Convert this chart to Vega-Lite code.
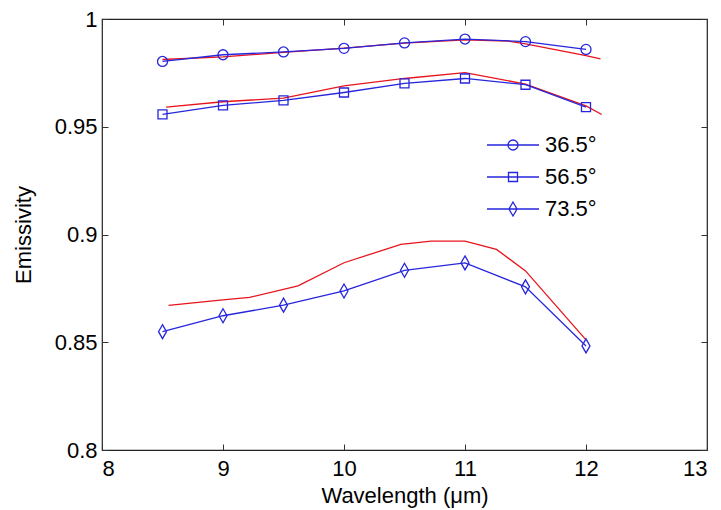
{
  "$schema": "https://vega.github.io/schema/vega-lite/v6.json",
  "width": 605,
  "height": 431,
  "autosize": {"type": "none"},
  "padding": {"left": 102, "top": 19, "right": 14, "bottom": 60},
  "background": "white",
  "config": {
    "font": "Liberation Sans",
    "view": {"stroke": "#222222", "strokeWidth": 1.2},
    "axis": {"grid": false, "domain": false, "tickColor": "#333333", "tickSize": -6, "labelColor": "black", "titleColor": "black", "labelFontSize": 22, "titleFontSize": 22, "labelFont": "Liberation Sans", "titleFont": "Liberation Sans", "titleFontWeight": "normal"}
  },
  "resolve": {"axis": {"x": "independent", "y": "independent"}, "scale": {"shape": "independent"}, "legend": {"shape": "independent"}},
  "datasets": {
    "measured": [
      {"angle": "36.5°", "wavelength": 8.5, "emissivity": 0.9803},
      {"angle": "36.5°", "wavelength": 9.0, "emissivity": 0.9834},
      {"angle": "36.5°", "wavelength": 9.5, "emissivity": 0.9847},
      {"angle": "36.5°", "wavelength": 10.0, "emissivity": 0.9864},
      {"angle": "36.5°", "wavelength": 10.5, "emissivity": 0.9889},
      {"angle": "36.5°", "wavelength": 11.0, "emissivity": 0.9907},
      {"angle": "36.5°", "wavelength": 11.5, "emissivity": 0.9895},
      {"angle": "36.5°", "wavelength": 12.0, "emissivity": 0.9859},
      {"angle": "56.5°", "wavelength": 8.5, "emissivity": 0.9557},
      {"angle": "56.5°", "wavelength": 9.0, "emissivity": 0.9599},
      {"angle": "56.5°", "wavelength": 9.5, "emissivity": 0.9622},
      {"angle": "56.5°", "wavelength": 10.0, "emissivity": 0.9659},
      {"angle": "56.5°", "wavelength": 10.5, "emissivity": 0.9701},
      {"angle": "56.5°", "wavelength": 11.0, "emissivity": 0.9724},
      {"angle": "56.5°", "wavelength": 11.5, "emissivity": 0.9695},
      {"angle": "56.5°", "wavelength": 12.0, "emissivity": 0.9591},
      {"angle": "73.5°", "wavelength": 8.5, "emissivity": 0.8549},
      {"angle": "73.5°", "wavelength": 9.0, "emissivity": 0.8623},
      {"angle": "73.5°", "wavelength": 9.5, "emissivity": 0.8672},
      {"angle": "73.5°", "wavelength": 10.0, "emissivity": 0.8738},
      {"angle": "73.5°", "wavelength": 10.5, "emissivity": 0.8834},
      {"angle": "73.5°", "wavelength": 11.0, "emissivity": 0.8868},
      {"angle": "73.5°", "wavelength": 11.5, "emissivity": 0.8757},
      {"angle": "73.5°", "wavelength": 12.0, "emissivity": 0.8483}
    ],
    "model": [
      {"angle": "36.5°", "wavelength": 8.5, "emissivity": 0.9812},
      {"angle": "36.5°", "wavelength": 9.0, "emissivity": 0.9824},
      {"angle": "36.5°", "wavelength": 9.5, "emissivity": 0.9845},
      {"angle": "36.5°", "wavelength": 10.0, "emissivity": 0.9865},
      {"angle": "36.5°", "wavelength": 10.5, "emissivity": 0.9888},
      {"angle": "36.5°", "wavelength": 11.0, "emissivity": 0.9903},
      {"angle": "36.5°", "wavelength": 11.35, "emissivity": 0.9898},
      {"angle": "36.5°", "wavelength": 11.5, "emissivity": 0.9885},
      {"angle": "36.5°", "wavelength": 12.0, "emissivity": 0.983},
      {"angle": "36.5°", "wavelength": 12.12, "emissivity": 0.9815},
      {"angle": "56.5°", "wavelength": 8.53, "emissivity": 0.9591},
      {"angle": "56.5°", "wavelength": 9.0, "emissivity": 0.9616},
      {"angle": "56.5°", "wavelength": 9.5, "emissivity": 0.9633},
      {"angle": "56.5°", "wavelength": 10.0, "emissivity": 0.969},
      {"angle": "56.5°", "wavelength": 10.5, "emissivity": 0.9724},
      {"angle": "56.5°", "wavelength": 11.0, "emissivity": 0.9751},
      {"angle": "56.5°", "wavelength": 11.5, "emissivity": 0.9698},
      {"angle": "56.5°", "wavelength": 12.0, "emissivity": 0.9597},
      {"angle": "56.5°", "wavelength": 12.13, "emissivity": 0.9557},
      {"angle": "73.5°", "wavelength": 8.55, "emissivity": 0.8671},
      {"angle": "73.5°", "wavelength": 9.0, "emissivity": 0.8697},
      {"angle": "73.5°", "wavelength": 9.22, "emissivity": 0.8708},
      {"angle": "73.5°", "wavelength": 9.62, "emissivity": 0.8762},
      {"angle": "73.5°", "wavelength": 10.0, "emissivity": 0.8869},
      {"angle": "73.5°", "wavelength": 10.47, "emissivity": 0.8954},
      {"angle": "73.5°", "wavelength": 10.72, "emissivity": 0.8969},
      {"angle": "73.5°", "wavelength": 11.0, "emissivity": 0.8969},
      {"angle": "73.5°", "wavelength": 11.26, "emissivity": 0.8931},
      {"angle": "73.5°", "wavelength": 11.5, "emissivity": 0.8831},
      {"angle": "73.5°", "wavelength": 12.0, "emissivity": 0.8511}
    ]
  },
  "layer": [
    {
      "data": {"name": "model"},
      "mark": {"type": "line", "color": "#e8141c", "strokeWidth": 1.3},
      "encoding": {
        "x": {"field": "wavelength", "type": "quantitative", "scale": {"domain": [8, 13], "nice": false, "zero": false}, "axis": {"orient": "bottom", "values": [8, 9, 10, 11, 12, 13], "title": "Wavelength (μm)", "labelPadding": 14, "titlePadding": 6}},
        "y": {"field": "emissivity", "type": "quantitative", "scale": {"domain": [0.8, 1], "nice": false, "zero": false}, "axis": {"orient": "left", "values": [0.8, 0.85, 0.9, 0.95, 1], "format": "~g", "title": "Emissivity", "labelPadding": 11, "titlePadding": 19}},
        "detail": {"field": "angle"}
      }
    },
    {
      "data": {"name": "measured"},
      "mark": {"type": "line", "color": "#2626dc", "strokeWidth": 1.3},
      "encoding": {
        "x": {"field": "wavelength", "type": "quantitative", "axis": {"orient": "top", "values": [8, 9, 10, 11, 12, 13], "labels": false, "title": null}},
        "y": {"field": "emissivity", "type": "quantitative", "axis": {"orient": "right", "values": [0.8, 0.85, 0.9, 0.95, 1], "labels": false, "title": null}},
        "detail": {"field": "angle"}
      }
    },
    {
      "data": {"name": "measured"},
      "mark": {"type": "point", "filled": false, "color": "#2626dc", "strokeWidth": 1.3, "size": 100, "opacity": 1},
      "encoding": {
        "x": {"field": "wavelength", "type": "quantitative", "axis": null},
        "y": {"field": "emissivity", "type": "quantitative", "axis": null},
        "shape": {
          "field": "angle", "type": "nominal",
          "scale": {"domain": ["36.5°", "56.5°", "73.5°"], "range": ["M-1,0A1,1,0,1,0,1,0A1,1,0,1,0,-1,0Z", "M-0.9,-0.9H0.9V0.9H-0.9Z", "M0,-1.4L0.8,0L0,1.4L-0.8,0Z"]},
          "legend": null
        }
      }
    },
    {
      "data": {"name": "measured"},
      "mark": {"type": "point", "filled": false, "color": "#2626dc", "strokeWidth": 1.3, "size": 400, "opacity": 0},
      "encoding": {
        "x": {"field": "wavelength", "type": "quantitative", "axis": null},
        "y": {"field": "emissivity", "type": "quantitative", "axis": null},
        "shape": {
          "field": "angle", "type": "nominal",
          "scale": {"domain": ["36.5°", "56.5°", "73.5°"], "range": ["M-2.6,0H2.6M-0.5,0A0.5,0.5,0,1,0,0.5,0A0.5,0.5,0,1,0,-0.5,0Z", "M-2.6,0H2.6M-0.45,-0.45H0.45V0.45H-0.45Z", "M-2.6,0H2.6M0,-0.7L0.4,0L0,0.7L-0.4,0Z"]},
          "legend": {
            "title": null,
            "orient": "none",
            "legendX": 400,
            "legendY": 115,
            "padding": 0,
            "labelFontSize": 22,
            "labelColor": "black",
            "labelOffset": 21,
            "rowPadding": 10,
            "symbolStrokeColor": "#2626dc",
            "symbolStrokeWidth": 1.3,
            "symbolFillColor": "transparent",
            "symbolOpacity": 1,
            "symbolSize": 400
          }
        }
      }
    }
  ]
}
